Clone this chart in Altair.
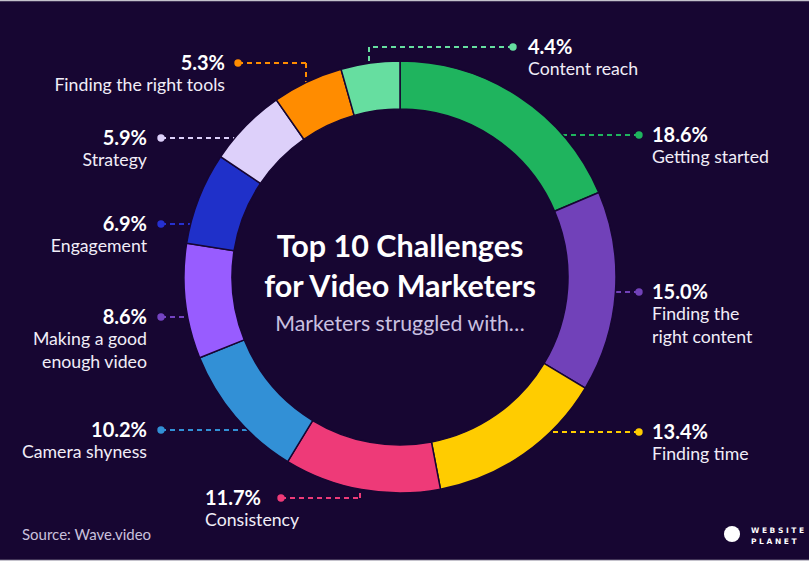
import math
import altair as alt
import pandas as pd

# ---------------- data ----------------
categories = ["Getting started", "Finding the right content", "Finding time", "Consistency",
              "Camera shyness", "Making a good enough video", "Engagement", "Strategy",
              "Finding the right tools", "Content reach"]
values = [18.6, 15.0, 13.4, 11.7, 10.2, 8.6, 6.9, 5.9, 5.3, 4.4]
label_text = ["Getting started", "Finding the\nright content", "Finding time", "Consistency",
              "Camera shyness", "Making a good\nenough video", "Engagement", "Strategy",
              "Finding the right tools", "Content reach"]
slice_colors = ["#1fb45e", "#7141b9", "#ffcc00", "#ee3a78", "#3290d6",
                "#985cff", "#1f30c9", "#ddd0fa", "#ff8c00", "#66dea0"]
dot_colors = ["#1fb45e", "#7141b9", "#ffcc00", "#ee3a78", "#3290d6",
              "#7443c2", "#2630d0", "#ddd0fa", "#ff8c00", "#66dea0"]

title_lines = ["Top 10 Challenges", "for Video Marketers"]
subtitle = "Marketers struggled with\u2026"
source = "Source: Wave.video"

# ---------------- layout (annotation positions, px) ----------------
W, H = 809, 561
BG = "#170632"
CX, CY = 400, 277
R_OUT, R_IN = 216, 168
dot_x = [639, 639, 639, 281, 161, 161, 161, 161, 238, 513]
dot_y = [135, 292, 432, 498, 430, 317, 224, 138, 63, 47]
elbow_x = [None, None, None, 360, None, None, None, None, 306, 369]
text_x = [652, 652, 652, 205, 147, 147, 147, 147, 225, 528]
text_align = ["left", "left", "left", "left", "right", "right", "right", "right", "right", "left"]

# ---------------- tables ----------------
pie = pd.DataFrame({"cat": categories, "val": values, "idx": list(range(len(values)))})

labels = pd.DataFrame({
    "pct": [f"{v:.1f}%" for v in values],
    "lab": label_text,
    "dx": dot_x, "dy": dot_y,
    "tx": text_x,
    "py": [y + 6.5 for y in dot_y],
    "ly": [y + 28 for y in dot_y],
    "align": text_align,
    "dcol": dot_colors,
})

segs = []
for i in range(len(values)):
    x0, y0, ex = dot_x[i], dot_y[i], elbow_x[i]
    col = dot_colors[i]
    if ex is None:
        dxr = math.sqrt(max(R_OUT ** 2 - (y0 - CY) ** 2, 0))
        xr = CX + dxr if x0 > CX else CX - dxr
        segs.append(dict(x=x0, y=y0, x2=xr, y2=y0, c=col))
    else:
        dyr = math.sqrt(max(R_OUT ** 2 - (ex - CX) ** 2, 0))
        yr = CY - dyr if y0 < CY else CY + dyr
        segs.append(dict(x=x0, y=y0, x2=ex, y2=y0, c=col))
        segs.append(dict(x=ex, y=y0, x2=ex, y2=yr, c=col))
segs = pd.DataFrame(segs)

xs = alt.Scale(domain=[0, W], range=[0, W], nice=False, zero=False)
ys = alt.Scale(domain=[0, H], range=[0, H], nice=False, zero=False)
FONT = "Lato"

lines = alt.Chart(segs).mark_rule(strokeDash=[5, 4], strokeWidth=2).encode(
    x=alt.X("x:Q", scale=xs, axis=None), y=alt.Y("y:Q", scale=ys, axis=None),
    x2="x2:Q", y2="y2:Q", color=alt.Color("c:N", scale=None))

arcs = alt.Chart(pie).mark_arc(radius=R_OUT, radius2=R_IN, stroke=BG, strokeWidth=1.5).encode(
    theta=alt.Theta("val:Q", stack=True),
    order=alt.Order("idx:Q"),
    color=alt.Color("cat:N", scale=alt.Scale(domain=categories, range=slice_colors), legend=None),
    x=alt.value(CX), y=alt.value(CY))

dots = alt.Chart(labels).mark_circle(size=55, opacity=1).encode(
    x=alt.X("dx:Q", scale=xs, axis=None), y=alt.Y("dy:Q", scale=ys, axis=None),
    color=alt.Color("dcol:N", scale=None))

def text_layers(align):
    base = alt.Chart(labels).transform_filter(alt.datum.align == align)
    p = base.mark_text(align=align, baseline="alphabetic", font=FONT, fontWeight="bold",
                       fontSize=20, color="white").encode(
        x=alt.X("tx:Q", scale=xs, axis=None), y=alt.Y("py:Q", scale=ys, axis=None), text="pct:N")
    l = base.mark_text(align=align, baseline="alphabetic", font=FONT, fontSize=17.7,
                       color="#f1edf8", lineBreak="\n", lineHeight=22.5).encode(
        x=alt.X("tx:Q", scale=xs, axis=None), y=alt.Y("ly:Q", scale=ys, axis=None), text="lab:N")
    return [p, l]

center_df = pd.DataFrame({"t": title_lines, "x": [CX, CX], "y": [257, 297]})
center = alt.Chart(center_df).mark_text(align="center", baseline="alphabetic", font=FONT,
                                        fontWeight="bold", fontSize=30.5, color="white").encode(
    x=alt.X("x:Q", scale=xs, axis=None), y=alt.Y("y:Q", scale=ys, axis=None), text="t:N")

sub_df = pd.DataFrame({"t": [subtitle], "x": [CX], "y": [331]})
sub = alt.Chart(sub_df).mark_text(align="center", baseline="alphabetic", font=FONT,
                                  fontSize=21.3, color="#c9c0e0").encode(
    x=alt.X("x:Q", scale=xs, axis=None), y=alt.Y("y:Q", scale=ys, axis=None), text="t:N")

src_df = pd.DataFrame({"t": [source], "x": [22], "y": [540]})
src = alt.Chart(src_df).mark_text(align="left", baseline="alphabetic", font=FONT,
                                  fontSize=15, color="#c9c0dc").encode(
    x=alt.X("x:Q", scale=xs, axis=None), y=alt.Y("y:Q", scale=ys, axis=None), text="t:N")

logo_df = pd.DataFrame({"t": ["W E B S I T E", "P L A N E T"], "x": [751, 751], "y": [533, 544]})
logo = alt.Chart(logo_df).mark_text(align="left", baseline="alphabetic", font="DejaVu Sans",
                                    fontWeight="bold", fontSize=7.5,
                                    color="white").encode(
    x=alt.X("x:Q", scale=xs, axis=None), y=alt.Y("y:Q", scale=ys, axis=None), text="t:N")
planet_df = pd.DataFrame({"x": [732], "y": [534]})
planet = alt.Chart(planet_df).mark_circle(size=260, color="white", opacity=1).encode(
    x=alt.X("x:Q", scale=xs, axis=None), y=alt.Y("y:Q", scale=ys, axis=None))

border_df = pd.DataFrame({"y": [0.5, 560.5], "x": [0, 0], "x2": [W, W]})
border = alt.Chart(border_df).mark_rule(color="#c4c2cc", strokeWidth=1.5).encode(
    x=alt.X("x:Q", scale=xs, axis=None), x2="x2:Q", y=alt.Y("y:Q", scale=ys, axis=None))

chart = alt.layer(
    lines, arcs, dots, *text_layers("left"), *text_layers("right"),
    center, sub, src, planet, logo, border
).properties(
    width=W, height=H, background=BG, padding=0, autosize="none"
).configure_view(stroke=None)

chart.save("out.html", embed_options={"renderer": "svg", "actions": False})
